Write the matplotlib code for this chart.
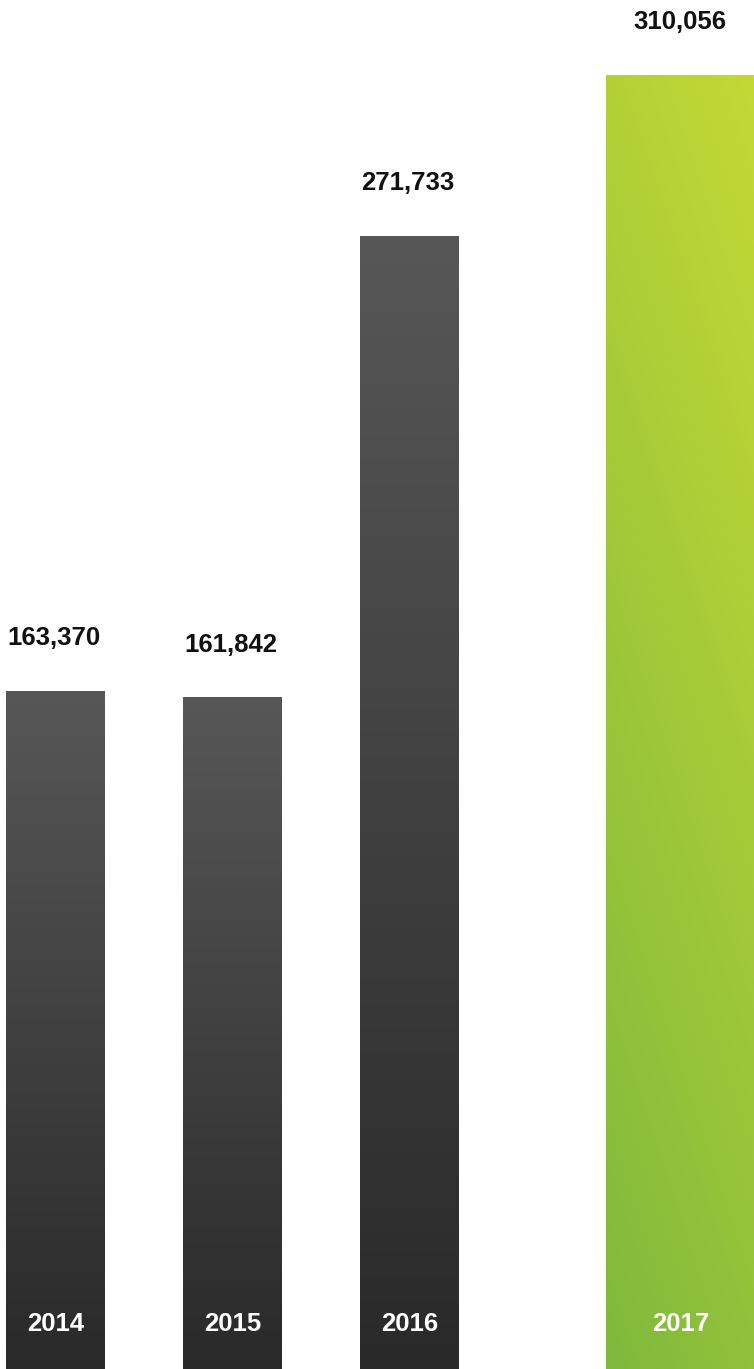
import numpy as np
import matplotlib
matplotlib.use('Agg')
import matplotlib.pyplot as plt
from matplotlib.colors import to_rgb

# data
years = ['2014', '2015', '2016', '2017']
values = [163370, 161842, 271733, 310056]

plt.rcParams['font.family'] = ['Liberation Sans', 'DejaVu Sans']

fig = plt.figure(figsize=(7.54, 13.69), dpi=100)
ax = fig.add_axes([0, 0, 1, 1])
ax.set_axis_off()

# last bar is highlighted: pushed right and made wider
x = np.arange(len(years), dtype=float)
x[-1] += 0.534
widths = [0.556, 0.556, 0.556, 0.85]


def grad_img(c_top, c_bot, diag=False, n=256):
    t = np.linspace(0, 1, n)
    if diag:
        # top-right light -> bottom-left dark
        xx, yy = np.meshgrid(t, t)
        f = np.clip((yy + (1 - xx) * 0.35) / 1.35, 0, 1)
    else:
        f = np.repeat(t[:, None], 2, axis=1)
    a = np.array(to_rgb(c_top))
    b = np.array(to_rgb(c_bot))
    return a[None, None, :] * (1 - f[..., None]) + b[None, None, :] * f[..., None]


bars = ax.bar(x, values, width=widths, color='none', edgecolor='none')
for i, (rect, v) in enumerate(zip(bars, values)):
    x0, w = rect.get_x(), rect.get_width()
    if i == len(values) - 1:
        img = grad_img('#c4d935', '#7fb93c', diag=True)
    else:
        img = grad_img('#575757', '#292929')
    im = ax.imshow(img, extent=[x0, x0 + w, 0, v], origin='upper',
                   aspect='auto', interpolation='bilinear', zorder=2)
    im.set_clip_path(rect)

    cx = x0 + w / 2
    ax.annotate(f'{v:,}', xy=(cx, v), xytext=(-1, 38), textcoords='offset points',
                ha='center', va='center', fontsize=18.5, fontweight='bold',
                color='#111111', annotation_clip=False)
    ax.annotate(years[i], xy=(cx, 0), xytext=(0, 38), textcoords='offset points',
                ha='center', va='center', fontsize=18.5, fontweight='bold',
                color='white', zorder=3, annotation_clip=False)

ax.set_xlim(-0.3136, 3.946)
ax.set_ylim(1905, 327900)

fig.savefig('out.png', dpi=100)
